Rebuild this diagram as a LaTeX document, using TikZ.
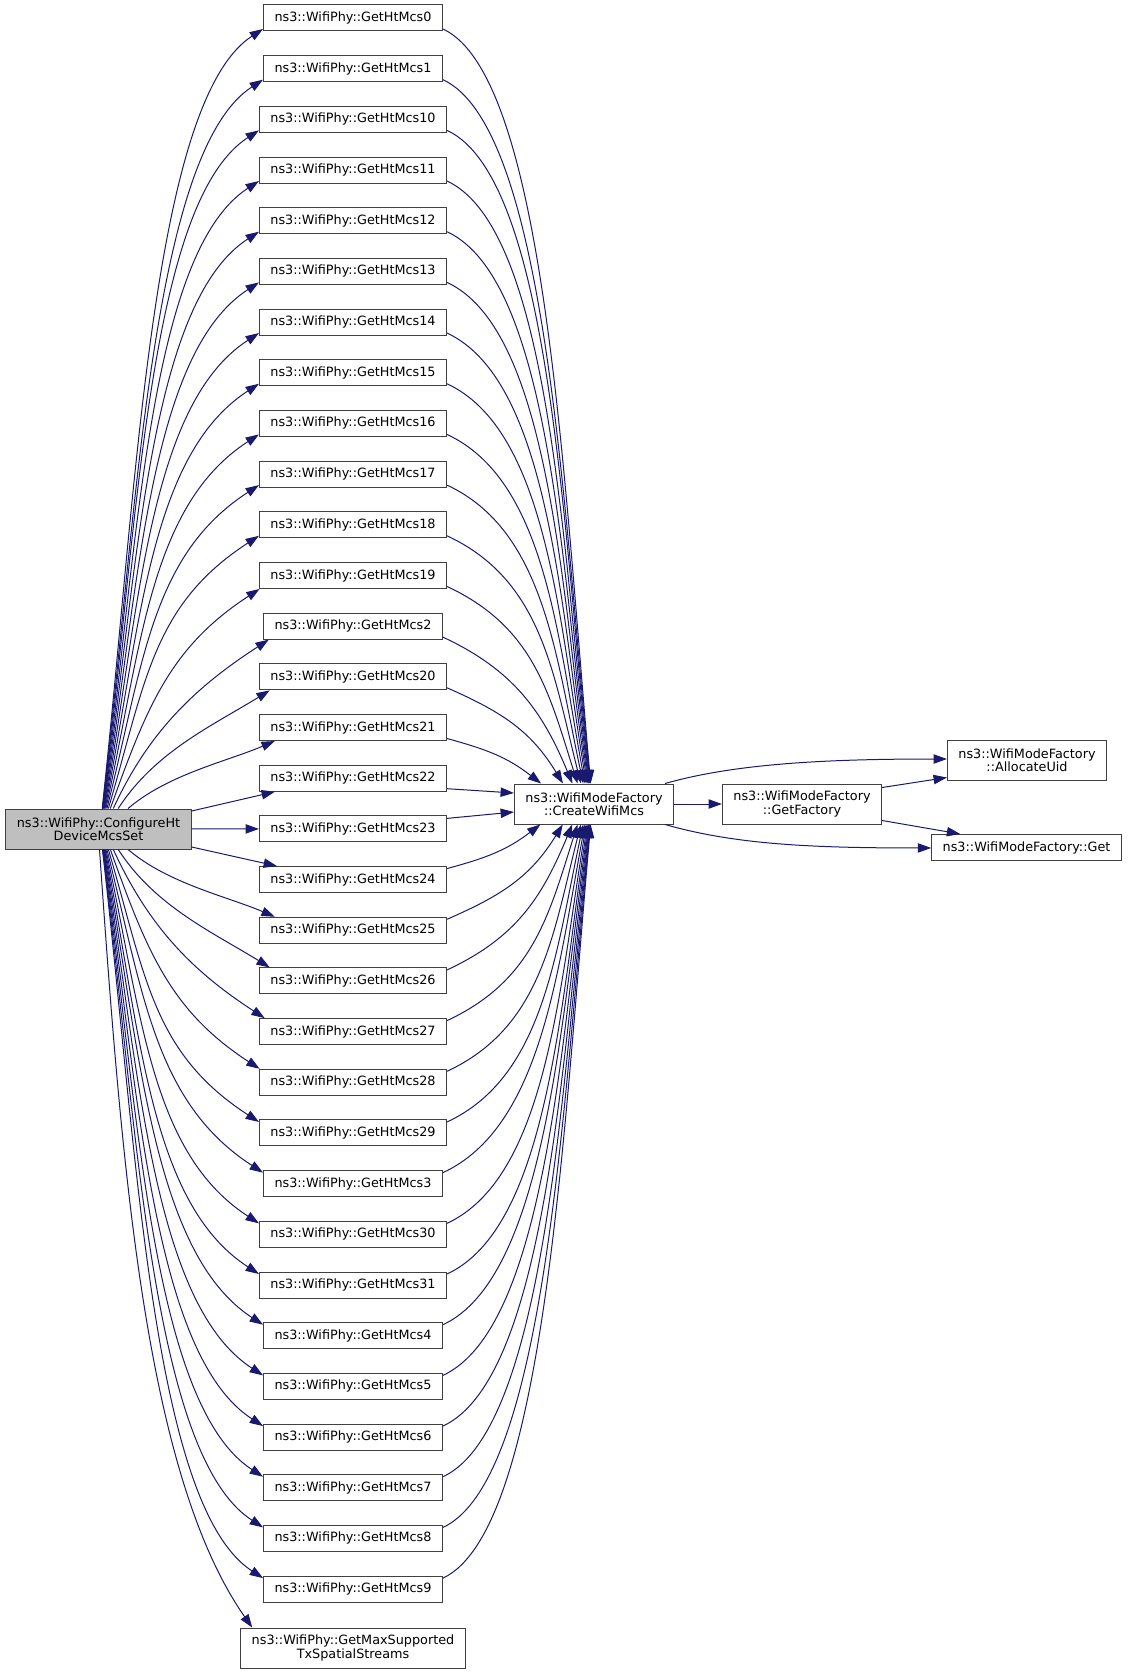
\documentclass[tikz,border=0pt]{standalone}
\usepackage{fontspec}
\setmainfont{DejaVu Sans}
\usetikzlibrary{arrows.meta,positioning}
\definecolor{edgeblue}{HTML}{191970}
\definecolor{boxgray}{HTML}{404040}
\definecolor{mainfill}{HTML}{BFBFBF}

\begin{document}
\begin{tikzpicture}[
    x=0.75pt,y=0.75pt,
    every node/.style={draw=boxgray,line width=0.75pt,fill=white,font=\fontsize{9.6}{10}\selectfont,
      inner xsep=8.25pt,inner ysep=2pt,minimum height=19.5pt,align=center},
    twoline/.style={minimum height=30pt},
    call/.style={draw=edgeblue,line width=0.75pt,-{Triangle[length=10pt,width=7pt]}},
    node distance=38.01pt
    ]
    \useasboundingbox (0,0) rectangle (1128,-1673);

    \node[fill=mainfill,twoline] (main) at (98.5,-829) {ns3::WifiPhy::ConfigureHt\\DeviceMcsSet};

    % column of GetHtMcs nodes
    \node (m0) at (353,-18) {ns3::WifiPhy::GetHtMcs0};
    \foreach \n [remember=\n as \p (initially 0)] in {1,10,11,12,13,14,15,16,17,18,19,2,20,21,22,23,24,25,26,27,28,29,3,30,31,4,5,6,7,8,9}
      \node[below of=m\p] (m\n) {ns3::WifiPhy::GetHtMcs\n};
    \node[twoline,below of=m9,node distance=44.25pt] (mx) {ns3::WifiPhy::GetMaxSupported\\TxSpatialStreams};

    \node[twoline] (create) at (594,-804) {ns3::WifiModeFactory\\::CreateWifiMcs};
    \node[twoline,right of=create,node distance=156pt] (factory) {ns3::WifiModeFactory\\::GetFactory};
    \node[twoline,right of=factory,node distance=168.75pt,yshift=33pt] (alloc) {ns3::WifiModeFactory\\::AllocateUid};
    \node[right of=factory,node distance=168.4pt,yshift=-32.6pt] (get) {ns3::WifiModeFactory::Get};

    % rows above the caller
    \foreach \n [count=\k from 0] in {0,1,10,11,12,13,14,15,16,17,18,19,2,20,21} {
      \pgfmathsetmacro\ya{18+50.68*\k}
      \pgfmathsetmacro\dv{829-\ya}
      \pgfmathsetmacro\ox{3000/\dv}
      \pgfmathsetmacro\ang{90-5000/\dv}
      \pgfmathsetmacro\ex{max(0,20-0.1*(\dv-60))}
      \pgfmathsetmacro\ey{\ex>0 ? 0 : 2.5}
      \pgfmathsetmacro\hx{261+\ex-98.5-\ox}
      \pgfmathsetmacro\fr{0.3+0.1*min(1,max(0,(\dv-100)/200))}
      \pgfmathsetmacro\chord{100*veclen(\hx/100,(\dv-13)/100)}
      \pgfmathsetmacro\arr{180+min(33,0.75*atan((\dv-13)/\hx))}
      \pgfmathsetmacro\ca{\fr*\chord}
      \pgfmathsetmacro\cb{min(\fr*\chord,0.7*\hx/cos(33))}
      \draw[call] ([shift={(\ox,0)}]main.north) .. controls +(\ang:\ca) and +(\arr:\cb) .. ([shift={(\ex,\ey)}]m\n.south west);
      % to CreateWifiMcs
      \pgfmathsetmacro\ee{804-\ya}
      \pgfmathsetmacro\rx{2-4200/\ee}
      \pgfmathsetmacro\pa{90+4000/\ee}
      \pgfmathsetmacro\rdx{596-4200/\ee-445}
      \pgfmathsetmacro\rdy{784-\ya-10.5}
      \pgfmathsetmacro\dep{-min(25,0.6*atan(\rdy/\rdx))}
      \pgfmathsetmacro\chord{100*veclen(\rdx/100,\rdy/100)}
      \pgfmathsetmacro\cc{min(0.4*\chord,0.7*\rdx/cos(25))}
      \pgfmathsetmacro\cd{0.4*\chord}
      \draw[call] ([shift={(0,2.5)}]m\n.south east) .. controls +(\dep:\cc) and +(\pa:\cd) .. ([shift={(\rx,0)}]create.north);
    }

    % nearly level rows
    \draw[call] ([shift={(0,18)}]main.east) -- ([shift={(16,0)}]m22.south west);
    \draw[call] (main) -- (m23);
    \draw[call] ([shift={(0,-18)}]main.east) -- ([shift={(18,0)}]m24.north west);
    \draw[call] ([shift={(0,3)}]m22.south east) -- ([shift={(0,11)}]create.west);
    \draw[call] ([shift={(0,-3)}]m23.north east) -- ([shift={(0,-8)}]create.west);

    % rows below the caller
    \foreach \n [count=\k from 17] in {24,25,26,27,28,29,3,30,31,4,5,6,7,8,9} {
      \pgfmathsetmacro\ya{18+50.68*\k}
      \ifnum\k>17
        \pgfmathsetmacro\dv{\ya-829}
        \pgfmathsetmacro\ox{3000/\dv}
        \pgfmathsetmacro\ang{5000/\dv-90}
        \pgfmathsetmacro\ex{max(0,20-0.1*(\dv-60))}
        \pgfmathsetmacro\ey{\ex>0 ? 0 : -2.5}
        \pgfmathsetmacro\hx{261+\ex-98.5-\ox}
        \pgfmathsetmacro\fr{0.3+0.1*min(1,max(0,(\dv-100)/200))}
        \pgfmathsetmacro\chord{100*veclen(\hx/100,(\dv-13)/100)}
        \pgfmathsetmacro\arr{180-min(33,0.75*atan((\dv-13)/\hx))}
        \pgfmathsetmacro\ca{\fr*\chord}
        \pgfmathsetmacro\cb{min(\fr*\chord,0.7*\hx/cos(33))}
        \draw[call] ([shift={(\ox,0)}]main.south) .. controls +(\ang:\ca) and +(\arr:\cb) .. ([shift={(\ex,\ey)}]m\n.north west);
      \fi
      \pgfmathsetmacro\ee{\ya-804}
      \pgfmathsetmacro\rx{2-4200/\ee}
      \pgfmathsetmacro\pa{270-4000/\ee}
      \pgfmathsetmacro\rdx{596-4200/\ee-445}
      \pgfmathsetmacro\rdy{\ya-10.5-824}
      \pgfmathsetmacro\dep{min(25,0.6*atan(\rdy/\rdx))}
      \pgfmathsetmacro\chord{100*veclen(\rdx/100,\rdy/100)}
      \pgfmathsetmacro\cc{min(0.4*\chord,0.7*\rdx/cos(25))}
      \pgfmathsetmacro\cd{0.4*\chord}
      \draw[call] ([shift={(0,-2.5)}]m\n.north east) .. controls +(\dep:\cc) and +(\pa:\cd) .. ([shift={(\rx,0)}]create.south);
    }
    \draw[call] ([shift={(1,0)}]main.south) .. controls +(-86:318) and +(125:187) .. ([shift={(12,0)}]mx.north west);

    % WifiModeFactory calls
    \draw[call] (create) -- (factory);
    \draw[call] ([shift={(-9,0)}]create.north east) .. controls +(70,20) and +(-120,0) .. ([shift={(0,1)}]alloc.west);
    \draw[call] ([shift={(-9,0)}]create.south east) .. controls +(70,-20) and +(-120,0) .. ([shift={(0,-0.5)}]get.west);
    \draw[call] ([shift={(0,-4)}]factory.north east) -- ([shift={(0,3)}]alloc.south west);
    \draw[call] ([shift={(0,4)}]factory.south east) -- ([shift={(29,0)}]get.north west);
  \end{tikzpicture}
\end{document}
